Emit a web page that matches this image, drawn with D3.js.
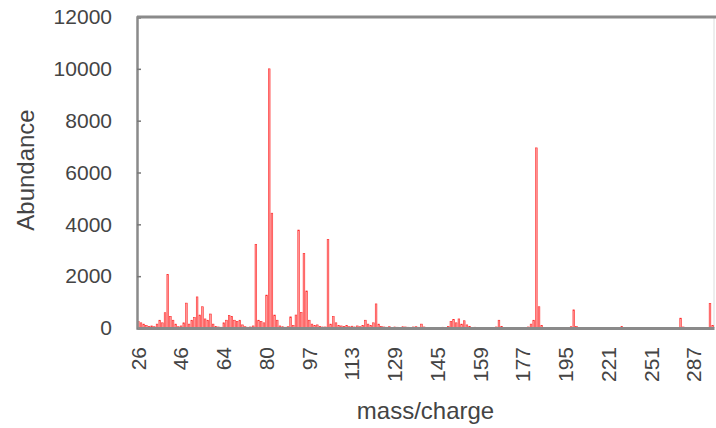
<!DOCTYPE html>
<html lang="en">
<head>
<meta charset="UTF-8">
<title>Mass spectrum</title>
<script src="https://d3js.org/d3.v7.min.js"></script>
<style>
  body { margin: 0; background: #fff; }
  svg { display: block; font-family: "Liberation Sans", Arial, sans-serif; }
</style>
</head>
<body>
<svg id="chart" width="716" height="428"></svg>
<script>
// m/z categories, 16 per labelled step
var mz = [
  26, 27, 28, 29, 30, 31, 32, 37, 38, 39, 40, 41, 42, 43, 44, 45,
  46, 47, 49, 50, 51, 52, 53, 54, 55, 56, 57, 58, 59, 60, 61, 62,
  64, 65, 66, 67, 68, 69, 70, 71, 72, 73, 74, 75, 76, 77, 78, 79,
  80, 81, 82, 83, 84, 85, 86, 87, 89, 90, 91, 92, 93, 94, 95, 96,
  97, 98, 99, 100, 101, 102, 103, 104, 105, 106, 107, 108, 109, 110, 111, 112,
  113, 114, 115, 116, 117, 118, 119, 120, 121, 122, 123, 124, 125, 126, 127, 128,
  129, 130, 131, 132, 133, 134, 135, 136, 137, 138, 139, 140, 141, 142, 143, 144,
  145, 146, 147, 148, 149, 150, 151, 152, 152.5, 153, 154, 155, 155.5, 156, 157, 158,
  159, 160, 161, 162, 163, 164, 166, 167, 168, 169, 170, 171, 173, 174, 175, 176,
  177, 178, 179, 180, 181, 182, 183, 184, 185, 187, 188, 189, 191, 192, 193, 194,
  195, 196, 197, 198, 199, 200, 202, 204, 206, 207, 208, 210, 213, 215, 217, 219,
  221, 222, 223, 225, 227, 229, 231, 233, 235, 237, 239, 241, 243, 245, 247, 249,
  251, 253, 255, 257, 259, 262, 264, 266, 268, 270, 272, 274, 277, 279, 281, 284,
  287, 289, 291, 293, 295, 297, 299, 301
];

var abundance = [
  250, 200, 150, 100, 60, 80, 50, 150, 300, 200, 590, 2070, 450, 300, 150, 50,
  80, 200, 960, 150, 300, 400, 1200, 500, 820, 350, 300, 540, 150, 60, 40, 30,
  200, 300, 480, 450, 300, 250, 300, 120, 50, 30, 40, 80, 3230, 300, 250, 200,
  1270, 10000, 4430, 500, 300, 80, 50, 30, 50, 430, 100, 500, 3780, 600, 2880, 1430,
  300, 150, 100, 120, 60, 40, 40, 3420, 150, 440, 200, 100, 80, 60, 100, 50,
  70, 40, 80, 50, 100, 300, 150, 100, 200, 930, 150, 60, 40, 30, 50, 0,
  40, 30, 0, 50, 40, 30, 0, 40, 50, 30, 150, 40, 0, 0, 0, 20,
  0, 0, 30, 0, 60, 250, 330, 200, 350, 150, 280, 120, 60, 0, 30, 0,
  0, 20, 0, 0, 0, 0, 40, 300, 60, 0, 0, 0, 0, 0, 0, 0,
  0, 0, 40, 150, 300, 6950, 820, 100, 0, 0, 0, 0, 0, 0, 0, 0,
  0, 0, 50, 700, 60, 0, 0, 0, 0, 0, 0, 0, 0, 0, 0, 0,
  0, 0, 0, 0, 0, 60, 0, 0, 0, 0, 0, 0, 0, 0, 0, 0,
  0, 0, 0, 0, 0, 0, 0, 0, 0, 0, 0, 380, 40, 0, 0, 0,
  0, 0, 0, 0, 0, 0, 950, 100
];

var yTicks = [0, 2000, 4000, 6000, 8000, 10000, 12000];
var labelEvery = 16;

var svg = d3.select("#chart");
var margin = { top: 17, right: 2, bottom: 100, left: 137 };
var W = 716 - margin.left - margin.right;
var H = 428 - margin.top - margin.bottom;

var g = svg.append("g").attr("transform", "translate(" + margin.left + "," + margin.top + ")");

var x = d3.scaleBand().domain(d3.range(mz.length)).range([0, W]).padding(0);
var y = d3.scaleLinear().domain([0, 12000]).range([H, 0]);

// plot frame (right side light)
g.append("line").attr("x1", W).attr("x2", W).attr("y1", 0).attr("y2", H)
  .attr("stroke", "#dcdcdc").attr("stroke-width", 1);

// bars
g.append("g").selectAll("rect")
  .data(abundance)
  .join("rect")
  .attr("x", function(d, i) { return x(i) + 0.5; })
  .attr("width", x.bandwidth() - 1)
  .attr("y", function(d) { return y(d); })
  .attr("height", function(d) { return H - y(d); })
  .attr("fill", "#ff9a9a")
  .attr("stroke", "#ff2a2a")
  .attr("stroke-width", 0.6);

// y axis
var yAxis = g.append("g")
  .call(d3.axisLeft(y).tickValues(yTicks).tickSize(-4).tickPadding(25).tickFormat(d3.format("d")));
yAxis.select(".domain").attr("stroke", "#8a8a8a").attr("stroke-width", 2.5);
yAxis.selectAll(".tick line").attr("stroke", "#777").attr("stroke-width", 1.5);
yAxis.selectAll(".tick text").attr("font-size", 21).attr("fill", "#444")
  .attr("font-family", "Liberation Sans, Arial, sans-serif");

// x axis
var xAxis = g.append("g").attr("transform", "translate(0," + H + ")")
  .call(d3.axisBottom(x)
    .tickValues(d3.range(0, mz.length, labelEvery))
    .tickSize(0)
    .tickFormat(function(i) { return Math.round(mz[i]); }));
xAxis.select(".domain").attr("stroke", "#8a8a8a").attr("stroke-width", 3);
xAxis.selectAll(".tick text")
  .attr("font-size", 21).attr("fill", "#444")
  .attr("font-family", "Liberation Sans, Arial, sans-serif")
  .attr("text-anchor", "end")
  .attr("transform", "translate(0,19) rotate(-90)")
  .attr("x", 0).attr("y", 0).attr("dy", "0.35em");

// top border
g.append("line").attr("x1", 0).attr("x2", W + 2).attr("y1", 0).attr("y2", 0)
  .attr("stroke", "#8a8a8a").attr("stroke-width", 3);

// axis titles
svg.append("text")
  .attr("x", margin.left + W / 2).attr("y", 419)
  .attr("text-anchor", "middle")
  .attr("font-size", 24).attr("fill", "#444")
  .text("mass/charge");

svg.append("text")
  .attr("transform", "translate(34,170) rotate(-90)")
  .attr("text-anchor", "middle")
  .attr("font-size", 24).attr("fill", "#444")
  .text("Abundance");
</script>
</body>
</html>
